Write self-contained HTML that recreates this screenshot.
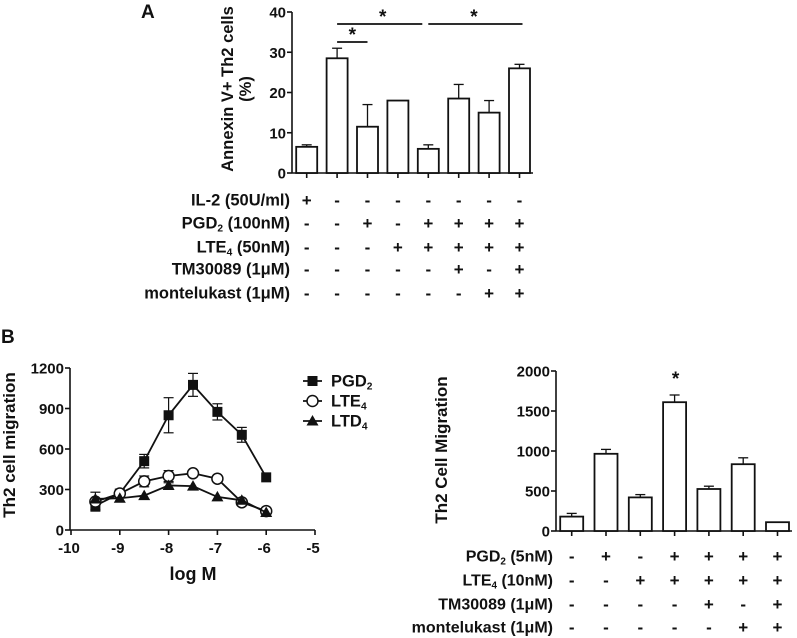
<!DOCTYPE html>
<html><head><meta charset="utf-8"><style>
html,body{margin:0;padding:0;background:#fff;}
svg{display:block;font-family:"Liberation Sans",Arial,sans-serif;font-weight:bold;}
text{fill:#111;}
</style></head><body>
<svg id="fig" width="797" height="638" viewBox="0 0 797 638" xmlns="http://www.w3.org/2000/svg">
<g id="gA"></g>
<g id="gBL"></g>
<g id="gBR"></g>
</svg>
<script>
// Panel A data
const aValues = [6.5, 28.5, 11.5, 18, 6, 18.5, 15, 26];
const aErrors = [0.5, 2.5, 5.5, 0, 1, 3.5, 3, 1];
const aTicks = [0, 10, 20, 30, 40];
const aRowLabels = ["IL-2 (50U/ml)", "PGD|2| (100nM)", "LTE|4| (50nM)", "TM30089 (1μM)", "montelukast (1μM)"];
const aRows = [
 ["+","-","-","-","-","-","-","-"],
 ["-","-","+","-","+","+","+","+"],
 ["-","-","-","+","+","+","+","+"],
 ["-","-","-","-","-","+","-","+"],
 ["-","-","-","-","-","-","+","+"]];
const aSig = [[1,4,24],[4,7,24],[1,2,42]];
// Panel B left data
const bX = [-9.5, -9, -8.5, -8, -7.5, -7, -6.5, -6];
const pgd2 = [180, 270, 510, 850, 1075, 875, 705, 390];
const pgd2Err = [30, 20, 50, 130, 85, 60, 55, 0];
const lte4 = [210, 270, 360, 400, 420, 380, 205, 140];
const lte4Err = [70, 0, 40, 40, 0, 0, 0, 20];
const ltd4 = [230, 235, 255, 330, 325, 245, 220, 130];
const ltd4Err = [0, 0, 0, 20, 0, 0, 0, 0];
const bYTicks = [0, 300, 600, 900, 1200];
const bXTicks = [-10, -9, -8, -7, -6, -5];
// Panel B right data
const cValues = [180, 965, 420, 1610, 525, 835, 110];
const cErrors = [40, 55, 35, 90, 35, 80, 0];
const cTicks = [0, 500, 1000, 1500, 2000];
const cRowLabels = ["PGD|2| (5nM)", "LTE|4| (10nM)", "TM30089 (1μM)", "montelukast (1μM)"];
const cRows = [
 ["-","+","-","+","+","+","+"],
 ["-","-","+","+","+","+","+"],
 ["-","-","-","-","+","-","+"],
 ["-","-","-","-","-","+","+"]];

const NS = "http://www.w3.org/2000/svg";
function el(parent, tag, attrs, txt){
  const e = document.createElementNS(NS, tag);
  for (const k in attrs) e.setAttribute(k, attrs[k]);
  if (txt !== undefined) e.textContent = txt;
  parent.appendChild(e); return e;
}
function line(p,x1,y1,x2,y2,w){ return el(p,"line",{x1,y1,x2,y2,stroke:"#111","stroke-width":w||1.6}); }
function subText(p, x, y, label, anchor, size){
  const t = el(p,"text",{x:x,y:y,"text-anchor":anchor,"font-size":size});
  const parts = label.split("|");
  parts.forEach((s,i)=>{
    if(!s) return;
    el(t,"tspan",i%2===1?{"font-size":size*0.62,dy:3}:(i>0?{dy:-3}:{}),s);
  });
  return t;
}

// ---------- Panel A ----------
(function(){
  const g = document.getElementById("gA");
  const ax = 292, y0 = 173, ppu = 161/40;
  const Y = v => y0 - v*ppu;
  const X = i => 306.7 + i*30.4;
  const bw = 21;
  const t = el(g,"text",{x:141,y:18,"font-size":19},"A");
  
  
  line(g,ax,Y(40),ax,y0);
  line(g,ax,y0,533,y0);
  aTicks.forEach(v=>{
    line(g,ax-5,Y(v),ax,Y(v));
    const tl = el(g,"text",{x:ax-6,y:Y(v)+5.5,"text-anchor":"end","font-size":15},String(v));
    
    
  });
  const yl = el(g,"text",{transform:"translate(233,89) rotate(-90)","text-anchor":"middle","font-size":16.5},"Annexin V+ Th2 cells");
  
  
  el(g,"text",{transform:"translate(251,89) rotate(-90)","text-anchor":"middle","font-size":16.5},"(%)");
  aValues.forEach((v,i)=>{
    const x = X(i);
    line(g,x,y0,x,y0+5);
    const e = aErrors[i];
    if(e>0){ line(g,x,Y(v),x,Y(v+e),1.3); line(g,x-5,Y(v+e),x+5,Y(v+e),1.3); }
    const r = el(g,"rect",{x:x-bw/2,y:Y(v),width:bw,height:y0-Y(v),fill:"#fff",stroke:"#111","stroke-width":1.8});
    
    
  });
  aSig.forEach(s=>{
    line(g,X(s[0]),s[2],X(s[1])+(s[1]===4&&s[0]===1?-6:0)+(s[0]===4?3:0),s[2],1.8);
    const st = el(g,"text",{x:(X(s[0])+X(s[1]))/2,y:s[2]-1,"text-anchor":"middle","font-size":19},"*");
    
    
  });
  const rowY = [200,223,247,269,293];
  aRowLabels.forEach((lab,r)=>{
    const tl = subText(g,290,rowY[r]+5.5,lab,"end",16.5);
    
    
    aRows[r].forEach((s,i)=>{ el(g,"text",{x:X(i),y:rowY[r]+6,"text-anchor":"middle","font-size":17},s); });
  });
})();

// ---------- Panel B left ----------
(function(){
  const g = document.getElementById("gBL");
  const x0 = 71, y0 = 530;
  const X = v => x0 + (v+10)*48.8;
  const Y = v => y0 - v*162/1200;
  const t = el(g,"text",{x:1,y:343,"font-size":19},"B");
  
  
  line(g,70,Y(1200),70,y0);
  line(g,70,y0,X(-5),y0);
  bYTicks.forEach(v=>{
    line(g,65,Y(v),70,Y(v));
    el(g,"text",{x:64,y:Y(v)+5.5,"text-anchor":"end","font-size":15},String(v));
  });
  bXTicks.forEach(v=>{
    line(g,X(v),y0,X(v),y0+5);
    el(g,"text",{x:X(v)-2,y:y0+23,"text-anchor":"middle","font-size":15},String(v));
  });
  const xl = el(g,"text",{x:193,y:580,"text-anchor":"middle","font-size":18},"log M");
  
  
  const yl = el(g,"text",{transform:"translate(15,445) rotate(-90)","text-anchor":"middle","font-size":17},"Th2 cell migration");
  
  
  function marker(p,type,x,y){
    if(type==="sq") return el(p,"rect",{x:x-5,y:y-5,width:10,height:10,fill:"#111"});
    if(type==="ci") return el(p,"circle",{cx:x,cy:y,r:5.5,fill:"#fff",stroke:"#111","stroke-width":1.5});
    return el(p,"polygon",{points:`${x},${y-6} ${x+6},${y+4.5} ${x-6},${y+4.5}`,fill:"#111"});
  }
  const series = [[pgd2,pgd2Err,"sq","pgd2"],[lte4,lte4Err,"ci","lte4"],[ltd4,ltd4Err,"tr","ltd4"]];
  series.forEach(([vals,errs,type,name])=>{
    const sg = el(g,"g",{});
    
    
    vals.forEach((v,i)=>{
      const e=errs[i]; if(e>0){ const x=X(bX[i]); line(sg,x,Y(v-e),x,Y(v+e),1.2); line(sg,x-5,Y(v-e),x+5,Y(v-e),1.2); line(sg,x-5,Y(v+e),x+5,Y(v+e),1.2); }
    });
    el(sg,"polyline",{points:vals.map((v,i)=>X(bX[i])+","+Y(v)).join(" "),fill:"none",stroke:"#111","stroke-width":1.8});
    vals.forEach((v,i)=>{ const m=marker(sg,type,X(bX[i]),Y(v));   });
  });
  const legY=[381,401,421], legL=["PGD|2|","LTE|4|","LTD|4|"], legT=["sq","ci","tr"];
  legY.forEach((y,i)=>{
    const lg = el(g,"g",{});
    
    
    line(lg,303,y,322,y,1.8);
    marker(lg,legT[i],312.5,y);
    subText(lg,331,y+5.5,legL[i],"start",16.5);
  });
})();

// ---------- Panel B right ----------
(function(){
  const g = document.getElementById("gBR");
  const ax = 556, y0 = 531;
  const Y = v => y0 - v*160/2000;
  const X = i => 571.7 + i*34.3;
  const bw = 23;
  line(g,ax,Y(2000),ax,y0);
  line(g,ax,y0,792,y0);
  cTicks.forEach(v=>{
    line(g,ax-5,Y(v),ax,Y(v));
    el(g,"text",{x:ax-6,y:Y(v)+5.5,"text-anchor":"end","font-size":15},String(v));
  });
  const yl = el(g,"text",{transform:"translate(447,450) rotate(-90)","text-anchor":"middle","font-size":17},"Th2 Cell Migration");
  
  
  cValues.forEach((v,i)=>{
    const x=X(i);
    line(g,x,y0,x,y0+5);
    const e=cErrors[i];
    if(e>0){ line(g,x,Y(v),x,Y(v+e),1.3); line(g,x-5,Y(v+e),x+5,Y(v+e),1.3); }
    const r = el(g,"rect",{x:x-bw/2,y:Y(v),width:bw,height:y0-Y(v),fill:"#fff",stroke:"#111","stroke-width":1.8});
    
    
  });
  const st = el(g,"text",{x:X(3)+1,y:Y(cValues[3]+cErrors[3])-10,"text-anchor":"middle","font-size":19},"*");
  
  
  const rowY=[556,580,604,627];
  cRowLabels.forEach((lab,r)=>{
    const tl = subText(g,553,rowY[r]+5.5,lab,"end",16);
    
    
    cRows[r].forEach((s,i)=>{ el(g,"text",{x:X(i),y:rowY[r]+6,"text-anchor":"middle","font-size":17},s); });
  });
})();
</script>
</body></html>
